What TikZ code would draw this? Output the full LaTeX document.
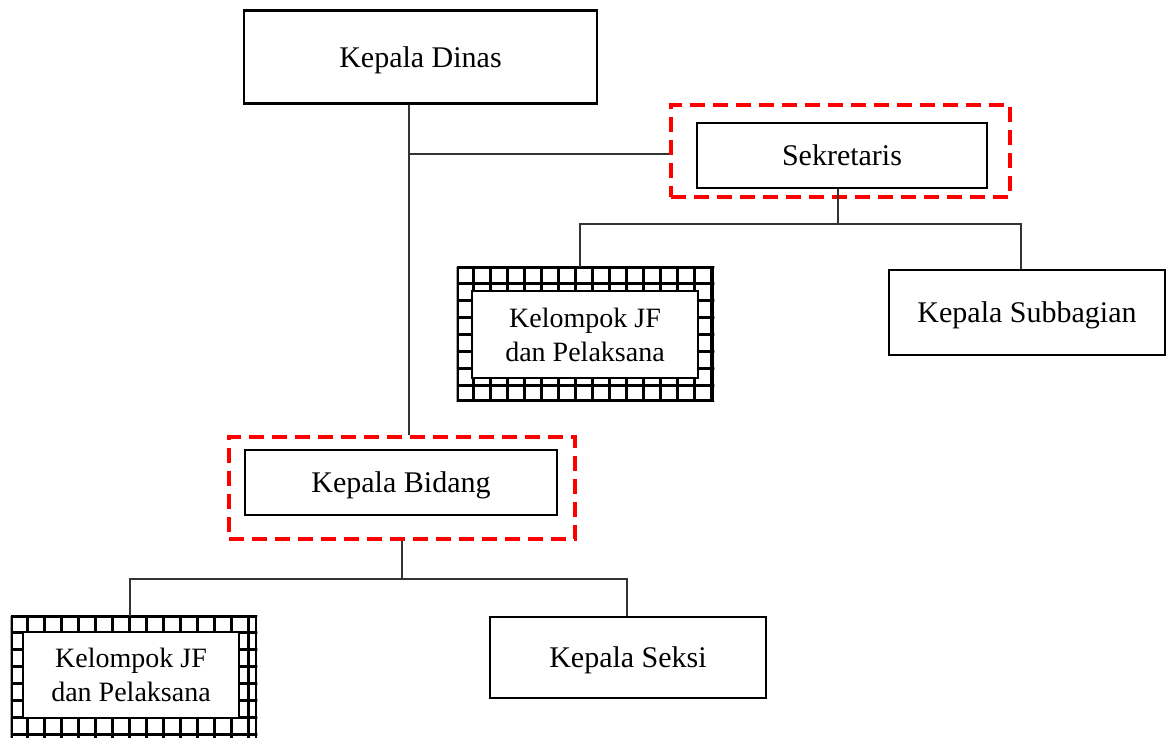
\documentclass[tikz,border=0pt]{standalone}
\usepackage{fontspec}
\setmainfont{Liberation Serif}
\usetikzlibrary{calc}
\begin{document}
\begin{tikzpicture}[x=1pt,y=-1pt,
  box/.style={draw=black,line width=2.4pt,fill=white,inner sep=0pt,align=center,text depth=0pt,font=\fontsize{30}{34}\selectfont},
  jfin/.style={box,line width=1.6pt,font=\fontsize{28}{34}\selectfont},
  dashbox/.style={draw=red,line width=3.8pt,dash pattern=on 15pt off 8pt,inner sep=0pt},
  link/.style={draw=black!80,line width=1.3pt},
  frame/.style={draw,line width=2.6pt,inner sep=0pt},
  gridline/.style={line width=2.6pt}]
\useasboundingbox (0,0) rectangle (1171,738);
% top
\node[box,minimum width=353pt,minimum height=93pt] (kd) at (420.5,57) {Kepala Dinas};
% sekretaris
\node[dashbox,minimum width=339pt,minimum height=92pt] (sekout) at (840.5,151) {};
\node[box,minimum width=290pt,minimum height=65pt] (sek) at (842,155.5) {Sekretaris};
% kepala bidang
\node[dashbox,minimum width=346pt,minimum height=102pt] (kbout) at (402,488) {};
\node[box,minimum width=312pt,minimum height=65pt] (kb) at (401,482.5) {Kepala Bidang};
% kepala subbagian
\node[box,minimum width=276pt,minimum height=85pt] (ksub) at (1027,312.5) {Kepala Subbagian};
% kepala seksi
\node[box,minimum width=276pt,minimum height=81pt] (kseksi) at (628,657.5) {Kepala Seksi};
% JF box 1
\node[frame,minimum width=255pt,minimum height=132pt] (jf1) at (585.5,334) {};
\begin{scope}
  \clip (jf1.south west) rectangle (jf1.north east);
  \foreach \i in {0,...,15} \draw[gridline] ($(jf1.north west)+(17*\i,0)$) -- ++(0,140);
  \foreach \j in {0,...,8} \draw[gridline] ($(jf1.north west)+(0,17*\j)$) -- ++(260,0);
\end{scope}
\node[frame,minimum width=255pt,minimum height=132pt] at (jf1) {};
\node[jfin,minimum width=226pt,minimum height=87pt] (jf1in) at (585,334.5) {Kelompok JF\\dan Pelaksana};
% JF box 2
\node[frame,minimum width=244pt,minimum height=125pt] (jf2) at (134,679.5) {};
\begin{scope}
  \clip (jf2.south west) rectangle (jf2.north east);
  \foreach \i in {0,...,15} \draw[gridline] ($(jf2.north west)+(17*\i,0)$) -- ++(0,140);
  \foreach \j in {0,...,8} \draw[gridline] ($(jf2.north west)+(0,17*\j)$) -- ++(260,0);
\end{scope}
\node[frame,minimum width=244pt,minimum height=125pt] at (jf2) {};
\node[jfin,minimum width=216pt,minimum height=86pt] (jf2in) at (131,675) {Kelompok JF\\dan Pelaksana};
% coordinates
\coordinate (trunk) at (409,0);
\coordinate (sekline) at (0,154);
\coordinate (sekbus) at (0,224);
\coordinate (sekdrop) at (838,0);
\coordinate (jf1drop) at (580,0);
\coordinate (ksubdrop) at (1021,0);
\coordinate (kbbus) at (0,579);
\coordinate (kbdrop) at (402,0);
\coordinate (jf2drop) at (130,0);
\coordinate (ksekdrop) at (627,0);
% connectors
\draw[link] (kd.south -| trunk) -- (kbout.north -| trunk);
\draw[link] (trunk |- sekline) -- (sekout.west |- sekline);
\draw[link] (sek.south -| sekdrop) -- (sekdrop |- sekbus);
\draw[link] (jf1.north -| jf1drop) -- (jf1drop |- sekbus) -- (ksubdrop |- sekbus) -- (ksub.north -| ksubdrop);
\draw[link] (kbout.south -| kbdrop) -- (kbdrop |- kbbus);
\draw[link] (jf2.north -| jf2drop) -- (jf2drop |- kbbus) -- (ksekdrop |- kbbus) -- (kseksi.north -| ksekdrop);
\end{tikzpicture}
\end{document}
